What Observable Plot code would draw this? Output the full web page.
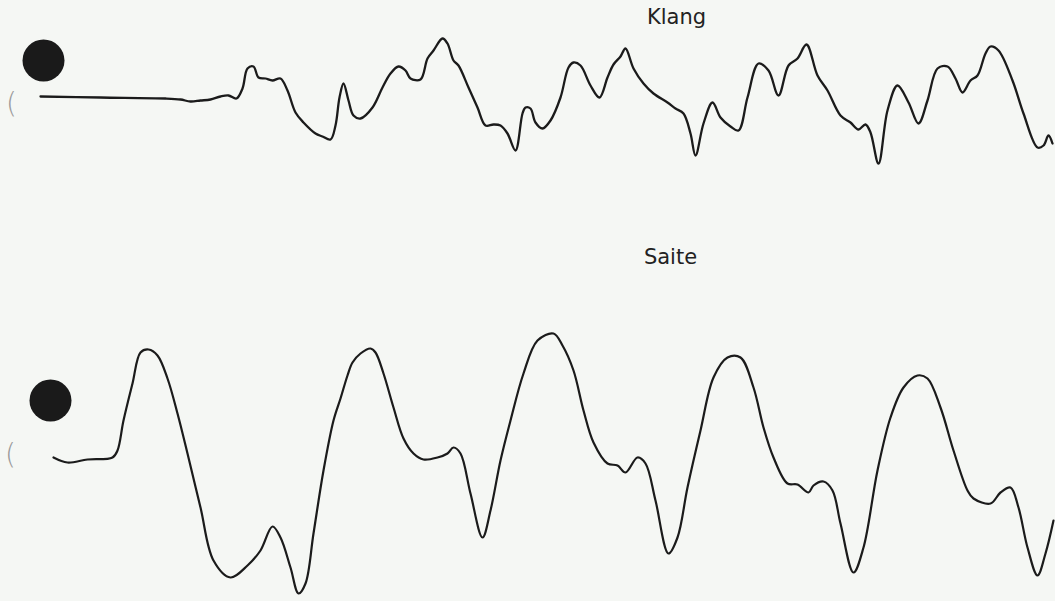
<!DOCTYPE html>
<html>
<head>
<meta charset="utf-8">
<script src="https://cdn.jsdelivr.net/npm/d3@7"></script>
<script src="https://cdn.jsdelivr.net/npm/@observablehq/plot@0.6"></script>
<style>
  html, body { margin: 0; padding: 0; background: #f5f7f4; }
  #chart svg { display: block; background: #f5f7f4; }
</style>
</head>
<body>
<div id="chart"></div>
<script>
// Readings (time in horizontal units, displacement in vertical units, downward positive)
const klangT = [40,100,165,180,190,200,210,220,228,236,242,247,253,258,265,272,280,287,295,303,315,322,330,335,339,343,348,353,360,372,382,390,398,405,410,420,427,433,442,447,453,458,468,477,485,493,500,507,515,522,525,530,535,542,550,560,568,573,580,590,599,607,613,620,625,633,643,653,667,675,683,690,695,703,712,720,730,738,747,758,768,778,788,797,806,817,827,840,850,858,865,870,878,887,897,908,918,927,937,947,955,962,970,977,985,990,998,1012,1023,1037,1043,1048,1052];
const klangV = [96,97,98,99,101,100,99,96,95,98,88,68,66,77,78,80,78,90,112,122,133,136,139,125,97,83,100,115,118,107,87,73,66,70,78,79,58,50,38,43,60,65,87,107,125,124,125,133,150,113,107,108,122,128,120,97,67,62,65,85,97,77,64,56,48,68,83,93,102,108,113,133,155,123,102,117,126,130,97,63,70,95,65,58,44,75,90,115,122,129,124,132,163,110,85,102,123,100,68,66,78,92,80,75,53,46,50,80,113,147,145,135,143];

const saiteT = [53,67,87,112,117,123,132,140,148,157,167,177,187,200,213,230,247,260,272,280,290,298,305,313,323,333,340,347,352,360,370,375,383,393,403,413,423,437,447,453,460,470,482,490,500,510,523,537,553,562,573,583,593,607,617,625,637,645,655,668,677,687,700,713,727,740,753,763,773,787,797,808,813,823,832,840,853,863,877,890,903,917,927,940,953,967,973,990,1000,1010,1018,1027,1037,1045,1053];
const saiteV = [457,462,459,457,450,420,383,352,349,355,378,413,453,507,560,577,565,550,526,537,567,593,583,533,470,420,398,375,362,353,348,352,373,407,438,453,459,457,453,447,453,493,537,510,460,420,373,340,333,345,370,410,442,463,465,472,457,463,500,553,537,487,430,377,357,357,387,427,457,483,484,492,485,481,490,523,572,547,470,417,387,375,378,407,450,490,498,503,492,487,507,547,575,553,520];

const labels = ["Klang", "Saite"];
const labelT = [676, 670];
const labelV = [17, 257];

const markerT = [43, 50];
const markerV = [60, 400];

const bracketT = [11, 10];
const bracketV = [104, 455];

const klang = klangT.map((t, i) => ({t, v: klangV[i]}));
const saite = saiteT.map((t, i) => ({t, v: saiteV[i]}));
const labelData = labels.map((s, i) => ({s, t: labelT[i], v: labelV[i]}));
const markers = markerT.map((t, i) => ({t, v: markerV[i]}));
const brackets = bracketT.map((t, i) => ({t, v: bracketV[i]}));

const chart = Plot.plot({
  width: 1055,
  height: 601,
  margin: 0,
  style: {background: "#f5f7f4"},
  x: {domain: [0, 1055], range: [0, 1055], axis: null},
  y: {domain: [0, 601], range: [0, 601], axis: null},
  marks: [
    Plot.line(klang, {x: "t", y: "v", stroke: "#1b1b1b", strokeWidth: 2.3, curve: "catmull-rom"}),
    Plot.line(saite, {x: "t", y: "v", stroke: "#1b1b1b", strokeWidth: 2.2, curve: "catmull-rom"}),
    Plot.dot(markers, {x: "t", y: "v", r: 21, fill: "#1a1a1a", stroke: "none"}),
    Plot.text(brackets, {x: "t", y: "v", text: () => "(", fill: "#9a9a9a", fontSize: 28, fontFamily: "DejaVu Sans", fontWeight: 200}),
    Plot.text(labelData, {x: "t", y: "v", text: "s", fill: "#222", fontSize: 21, fontFamily: "DejaVu Sans", textAnchor: "middle"})
  ]
});
document.getElementById("chart").appendChild(chart);
</script>
</body>
</html>
